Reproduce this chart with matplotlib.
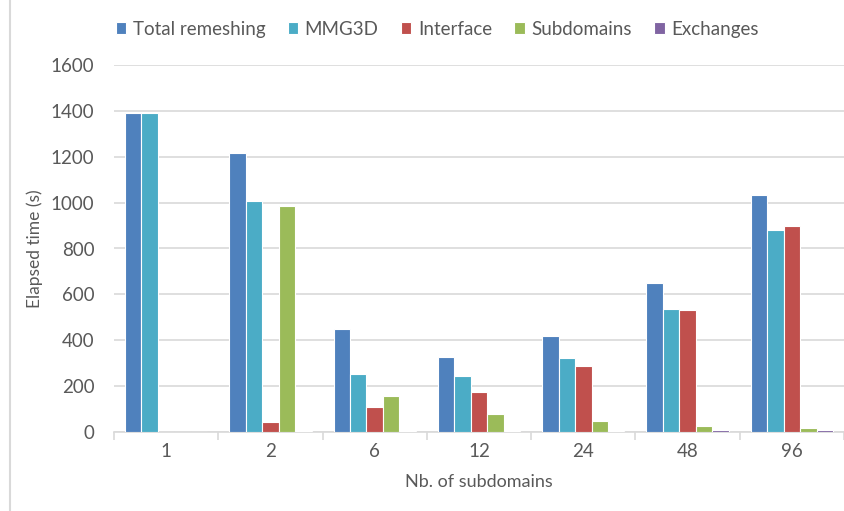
import matplotlib
matplotlib.use("Agg")
import matplotlib.pyplot as plt
from matplotlib.lines import Line2D
import numpy as np

categories = ["1", "2", "6", "12", "24", "48", "96"]
series_names = ["Total remeshing", "MMG3D", "Interface", "Subdomains", "Exchanges"]
total_remeshing = [1390, 1215, 448, 328, 418, 648, 1032]
mmg3d = [1390, 1007, 252, 242, 322, 538, 880]
interface = [0, 45, 107, 174, 287, 532, 898]
subdomains = [0, 985, 157, 80, 47, 24, 16]
exchanges = [0, 3, 3, 3, 3, 8, 7]
colors = ["#4F81BD", "#4BACC6", "#C0504D", "#9BBB59", "#8064A2"]

TEXT = "#595959"
GRID = "#D9D9D9"

plt.rcParams["font.family"] = ["Lato", "DejaVu Sans"]

fig = plt.figure(figsize=(8.44, 5.11), dpi=100)
ax = fig.add_axes([114 / 844, 79 / 511, 730 / 844, 367 / 511])

series = [total_remeshing, mmg3d, interface, subdomains, exchanges]
x = np.arange(len(categories))
width = 0.158
offsets = (np.arange(len(series)) - 2) * width
for vals, off, col, name in zip(series, offsets, colors, series_names):
    ax.bar(x + off, vals, width, color=col, edgecolor="white", linewidth=0.8,
           label=name, zorder=3)

ax.set_xlim(-0.5, len(categories) - 0.5)
ax.set_ylim(0, 1600)
ax.set_yticks(range(0, 1601, 200))
ax.yaxis.grid(True, color=GRID, linewidth=1.2, zorder=0)
ax.set_axisbelow(True)

ax.set_xticks(np.arange(-0.5, len(categories), 1.0))
ax.set_xticklabels([])
ax.set_xticks(x, minor=True)
ax.set_xticklabels(categories, minor=True)
ax.tick_params(axis="x", which="major", length=6, color=GRID, width=1.2)
ax.tick_params(axis="x", which="minor", length=0, pad=8, labelsize=13.5, labelcolor=TEXT)
ax.tick_params(axis="y", length=0, pad=14, labelsize=13.5, labelcolor=TEXT)

for s in ["top", "right", "left"]:
    ax.spines[s].set_visible(False)
ax.spines["bottom"].set_color(GRID)
ax.spines["bottom"].set_linewidth(1.2)

ax.set_xlabel("Nb. of subdomains", fontsize=13, color=TEXT, labelpad=10)
ax.set_ylabel("Elapsed time (s)", fontsize=12.5, color=TEXT, labelpad=6)

ax.legend(loc="center", bbox_to_anchor=(0.518, 0.943), bbox_transform=fig.transFigure,
          ncol=5, frameon=False, fontsize=13.5, labelcolor=TEXT,
          handlelength=0.55, handleheight=0.55, handletextpad=0.35, columnspacing=1.2)

fig.add_artist(Line2D([10 / 844, 10 / 844], [0, 1], color=GRID, linewidth=1.5))

fig.savefig("out.png", dpi=100)
